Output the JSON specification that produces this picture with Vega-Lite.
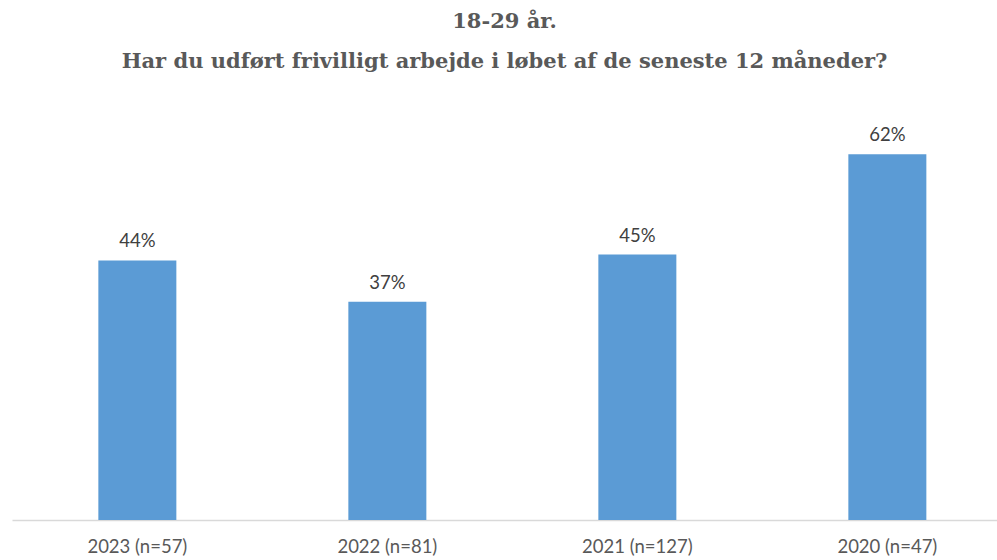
{
  "$schema": "https://vega.github.io/schema/vega-lite/v6.json",
  "autosize": "none",
  "width": 985,
  "height": 420,
  "padding": {"left": 12, "top": 100, "right": 0, "bottom": 40},
  "background": "white",
  "title": {
    "text": ["18-29 år.", "Har du udført frivilligt arbejde i løbet af de seneste 12 måneder?"],
    "font": "DejaVu Serif",
    "fontSize": 21,
    "fontWeight": "bold",
    "color": "#595959",
    "lineHeight": 40,
    "anchor": "middle",
    "frame": "group",
    "offset": 28
  },
  "data": {
    "values": [
      {"year": "2023 (n=57)", "pct": 0.44},
      {"year": "2022 (n=81)", "pct": 0.37},
      {"year": "2021 (n=127)", "pct": 0.45},
      {"year": "2020 (n=47)", "pct": 0.62}
    ]
  },
  "encoding": {
    "x": {
      "field": "year",
      "type": "nominal",
      "sort": null,
      "scale": {"paddingInner": 0.688, "paddingOuter": 0.314, "align": 0.55},
      "axis": {
        "title": null,
        "labelAngle": 0,
        "ticks": false,
        "domainColor": "#d9d9d9",
        "domainWidth": 1.5,
        "labelFont": "Lato",
        "labelFontSize": 18.5,
        "labelColor": "#595959",
        "labelPadding": 17,
        "grid": false
      }
    },
    "y": {
      "field": "pct",
      "type": "quantitative",
      "scale": {"domain": [0, 0.712]},
      "axis": null
    }
  },
  "layer": [
    {"mark": {"type": "bar", "color": "#5b9bd5"}},
    {
      "mark": {"type": "text", "baseline": "bottom", "dy": -9, "font": "Lato", "fontSize": 18.5, "color": "#404040"},
      "encoding": {"text": {"field": "pct", "type": "quantitative", "format": ".0%"}}
    }
  ],
  "config": {"view": {"stroke": null}}
}
